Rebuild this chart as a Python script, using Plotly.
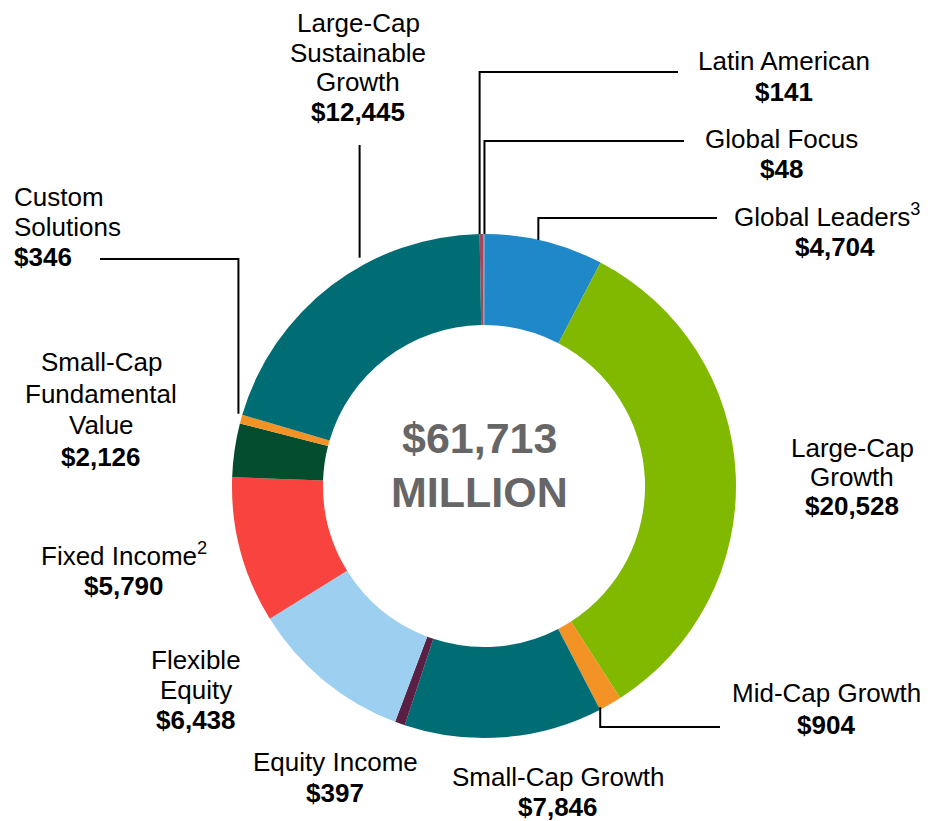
import math
import plotly.graph_objs as go

# assets under management by strategy, $ millions (clockwise from 12 o'clock)
strategies = ["Latin American", "Global Focus", "Global Leaders", "Large-Cap Growth",
              "Mid-Cap Growth", "Small-Cap Growth", "Equity Income", "Flexible Equity",
              "Fixed Income", "Small-Cap Fundamental Value", "Custom Solutions",
              "Large-Cap Sustainable Growth"]
aum = [141, 48, 4704, 20528, 904, 7846, 397, 6438, 5790, 2126, 346, 12445]
colors = ["#a8445c", "#8a7f86", "#1e88c8", "#80b900", "#f39325", "#006d75",
          "#5a1f45", "#9dd0f0", "#f8433f", "#034d2e", "#f39325", "#006d75"]

# label text lines for each strategy (value line added below)
label_lines = {
    "Latin American": ["Latin American"],
    "Global Focus": ["Global Focus"],
    "Global Leaders": ["Global Leaders<sup>3</sup>"],
    "Large-Cap Growth": ["Large-Cap", "Growth"],
    "Mid-Cap Growth": ["Mid-Cap Growth"],
    "Small-Cap Growth": ["Small-Cap Growth"],
    "Equity Income": ["Equity Income"],
    "Flexible Equity": ["Flexible", "Equity"],
    "Fixed Income": ["Fixed Income<sup>2</sup>"],
    "Small-Cap Fundamental Value": ["Small-Cap", "Fundamental", "Value"],
    "Custom Solutions": ["Custom", "Solutions"],
    "Large-Cap Sustainable Growth": ["Large-Cap", "Sustainable", "Growth"],
}

# page body has an 8px margin, so the figure is drawn 8px in from the corner
OFF = 8
W, H = 928 - OFF, 821 - OFF
CX, CY, R = 484, 486, 252
ROTATION = -1
FONT = "Liberation Sans, Arial, sans-serif"
FS = 26


def px(x, y):
    # screen pixel -> paper coords
    return (x - OFF) / W, 1 - (y - OFF) / H


# label placement: x, y of first line, line step, anchor
label_pos = {
    "Latin American": (784, 61, 31, "center"),
    "Global Focus": (781, 139, 30, "center"),
    "Global Leaders": (827, 216, 31, "center"),
    "Large-Cap Growth": (852, 448, 29, "center"),
    "Mid-Cap Growth": (826, 693, 32, "center"),
    "Small-Cap Growth": (558, 777, 30, "center"),
    "Equity Income": (335, 762, 31, "center"),
    "Flexible Equity": (196, 660, 30, "center"),
    "Fixed Income": (124, 554, 32, "center"),
    "Small-Cap Fundamental Value": (101, 362, 31.5, "center"),
    "Custom Solutions": (12, 197, 30, "left"),
    "Large-Cap Sustainable Growth": (358, 23, 29.7, "center"),
}

# leader lines: fraction along slice, gap off the rim, elbow y, end x
leaders = {
    "Latin American": (0.0, 0, 72, 678),
    "Global Focus": (1.0, 0, 141, 684),
    "Global Leaders": (0.45, 0, 218, 717),
    "Mid-Cap Growth": (0.95, -2, 727, 720),
    "Custom Solutions": (1.0, 4, 259, 100),
    "Large-Cap Sustainable Growth": (0.62, 8, 145, None),
}

x0, y1 = px(CX - R, CY - R)
x1, y0 = px(CX + R, CY + R)
fig = go.Figure(go.Pie(
    labels=strategies, values=aum, sort=False, direction="clockwise",
    rotation=ROTATION, hole=0.639, textinfo="none", hoverinfo="label+value",
    marker=dict(colors=colors, line=dict(width=0)),
    domain=dict(x=[x0, x1], y=[y0, y1]),
    showlegend=False,
))

annotations = []
for name, value in zip(strategies, aum):
    x, y, step, anchor = label_pos[name]
    lines = label_lines[name] + ["<b>${:,}</b>".format(value)]
    for i, t in enumerate(lines):
        lx = x + 8 if (name == "Global Leaders" and i == 1) else x
        ax, ay = px(lx, y + i * step)
        annotations.append(dict(x=ax, y=ay, xref="paper", yref="paper", text=t,
                                showarrow=False, xanchor=anchor, yanchor="middle",
                                font=dict(family=FONT, size=FS, color="#000000")))

# centre total
total = sum(aum)
for t, y in [("<b>${:,}</b>".format(total), 438), ("<b>MILLION</b>", 492)]:
    ax, ay = px(CX - 5, y)
    annotations.append(dict(x=ax, y=ay, xref="paper", yref="paper", text=t,
                            showarrow=False, xanchor="center", yanchor="middle",
                            font=dict(family=FONT, size=43, color="#666666")))

shapes = []
cum = 0
starts = {}
for name, value in zip(strategies, aum):
    starts[name] = (cum, cum + value)
    cum += value
for name, (frac, gap, elbow_y, end_x) in leaders.items():
    a0, a1 = starts[name]
    ang = math.radians((a0 + frac * (a1 - a0)) / total * 360 + ROTATION)
    sx = CX + (R + gap) * math.sin(ang)
    sy = CY - (R + gap) * math.cos(ang)
    pts = [(sx, sy), (sx, elbow_y)]
    if end_x is not None:
        pts.append((end_x, elbow_y))
    path = ""
    for i, (x, y) in enumerate(pts):
        u, v = px(x, y)
        path += ("M" if i == 0 else " L") + " {:.5f},{:.5f}".format(u, v)
    shapes.append(dict(type="path", path=path, xref="paper", yref="paper",
                       line=dict(color="#000000", width=2)))

fig.update_layout(
    width=W, height=H,
    margin=dict(l=0, r=0, t=0, b=0),
    paper_bgcolor="white", plot_bgcolor="white",
    annotations=annotations, shapes=shapes,
)
fig.write_html("out.html")
